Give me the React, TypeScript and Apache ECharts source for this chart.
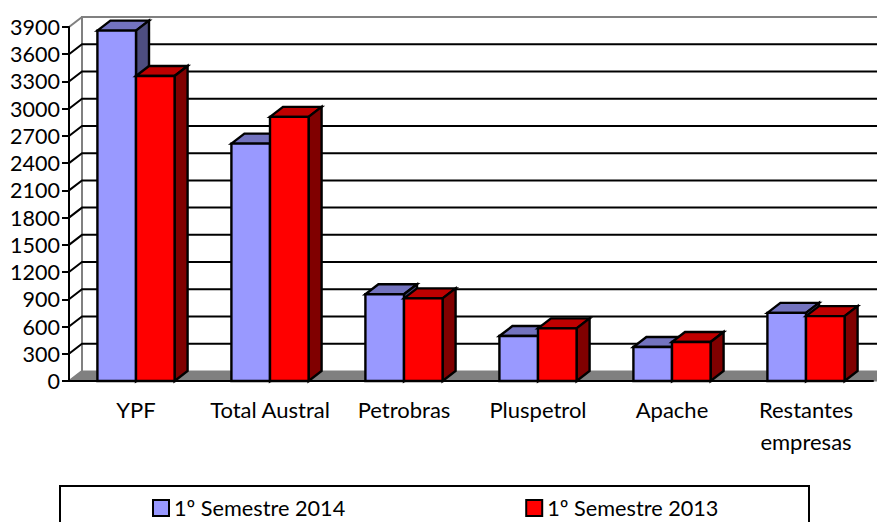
import React, { useEffect, useRef } from "react";
import * as echarts from "echarts";

const categories = ["YPF", "Total Austral", "Petrobras", "Pluspetrol", "Apache", "Restantes\nempresas"];
const semester2014 = [3860, 2615, 955, 495, 375, 750];
const semester2013 = [3360, 2910, 910, 580, 430, 715];
const yTicks = [300, 600, 900, 1200, 1500, 1800, 2100, 2400, 2700, 3000, 3300, 3600];
const FONT = "Lato";
const DX = 13;
const DY = 10;

function barSeries(name: string, values: number[], colors: string[], side: number) {
  return {
    name,
    type: "custom",
    z: 5,
    itemStyle: { color: colors[0], borderColor: "#000", borderWidth: 2 },
    encode: { x: 0, y: 1 },
    data: values.map((v, i) => [i, v]),
    renderItem(_p: any, api: any) {
      const cx = api.coord([api.value(0), 0])[0];
      const y0 = api.coord([api.value(0), 0])[1];
      const yv = api.coord([api.value(0), api.value(1)])[1];
      const w = api.size([1, 0])[0] * 0.288;
      const x0 = side < 0 ? cx - w : cx;
      const x1 = x0 + w;
      const st = (fill: string) => ({ fill, stroke: "#000", lineWidth: 2.4, lineJoin: "miter" });
      return {
        type: "group",
        children: [
          { type: "polygon", shape: { points: [[x0, yv], [x0 + DX, yv - DY], [x1 + DX, yv - DY], [x1, yv]] }, style: st(colors[1]) },
          { type: "polygon", shape: { points: [[x1, yv], [x1 + DX, yv - DY], [x1 + DX, y0 - DY], [x1, y0]] }, style: st(colors[2]) },
          { type: "rect", shape: { x: x0, y: yv, width: w, height: y0 - yv }, style: st(colors[0]) },
        ],
      };
    },
  };
}

export default function App() {
  const ref = useRef<HTMLDivElement>(null);
  useEffect(() => {
    document.body.style.margin = "0";
    const chart = echarts.init(ref.current!, null, { renderer: "svg" });
    chart.setOption({
      animation: false,
      backgroundColor: "#fff",
      textStyle: { fontFamily: FONT },
      grid: { left: 69, top: 27, width: 804, height: 354 },
      legend: {
        data: ["1º Semestre 2014", "1º Semestre 2013"],
        left: 152,
        top: 497,
        padding: 0,
        itemWidth: 16,
        itemHeight: 16,
        itemGap: 180,
        icon: "rect",
        textStyle: { fontFamily: FONT, fontSize: 21.7, color: "#000" },
      },
      graphic: [
        { type: "rect", z: 0, shape: { x: 60, y: 486, width: 749, height: 50 }, style: { fill: "#fff", stroke: "#000", lineWidth: 2 } },
      ],
      xAxis: {
        type: "category",
        data: categories,
        axisLine: { lineStyle: { color: "#000", width: 2 } },
        axisTick: { length: 7, alignWithLabel: false, lineStyle: { color: "#000", width: 2 } },
        axisLabel: { fontFamily: FONT, fontSize: 22, color: "#000", margin: 12, lineHeight: 32, interval: 0 },
        splitLine: { show: false },
        z: 6,
      },
      yAxis: {
        type: "value",
        min: 0,
        max: 3900,
        interval: 300,
        axisLine: { show: true, lineStyle: { color: "#000", width: 2 } },
        axisTick: { show: true, length: 7, lineStyle: { color: "#000", width: 2 } },
        axisLabel: { fontFamily: FONT, fontSize: 21.5, color: "#000", margin: 9, formatter: (v: number) => String(v) },
        splitLine: { show: false },
        z: 6,
      },
      series: [
        {
          type: "custom",
          z: 1,
          silent: true,
          encode: { x: 0, y: 1 },
          data: [[0, 0]],
          renderItem(p: any, api: any) {
            const c = p.coordSys;
            const y0 = api.coord([0, 0])[1];
            const yTop = c.y;
            const right = 880;
            return {
              type: "group",
              children: [
                { type: "polygon", shape: { points: [[c.x, y0], [c.x + DX, y0 - DY], [right, y0 - DY], [right, y0]] }, style: { fill: "#808080", stroke: "#808080", lineWidth: 1 } },
                { type: "polyline", shape: { points: [[c.x, y0], [c.x + DX, y0 - DY], [c.x + DX, yTop - DY], [right, yTop - DY]] }, style: { fill: "none", stroke: "#808080", lineWidth: 2 } },
                { type: "line", shape: { x1: c.x, y1: yTop, x2: c.x + DX, y2: yTop - DY }, style: { stroke: "#808080", lineWidth: 2 } },
              ],
            };
          },
        },
        {
          type: "custom",
          z: 2,
          silent: true,
          encode: { x: 0, y: 1 },
          data: yTicks.map((v) => [0, v]),
          renderItem(p: any, api: any) {
            const c = p.coordSys;
            const y = api.coord([0, api.value(1)])[1];
            return {
              type: "polyline",
              shape: { points: [[c.x, y], [c.x + DX, y - DY], [880, y - DY]] },
              style: { fill: "none", stroke: "#000", lineWidth: 2 },
            };
          },
        },
        barSeries("1º Semestre 2014", semester2014, ["#9999FF", "#7373BF", "#4D4D80"], -1),
        barSeries("1º Semestre 2013", semester2013, ["#FF0000", "#BF0000", "#800000"], 1),
      ],
    });
    return () => chart.dispose();
  }, []);
  return <div ref={ref} style={{ position: "fixed", left: 0, top: 0, width: 877, height: 522 }} />;
}
